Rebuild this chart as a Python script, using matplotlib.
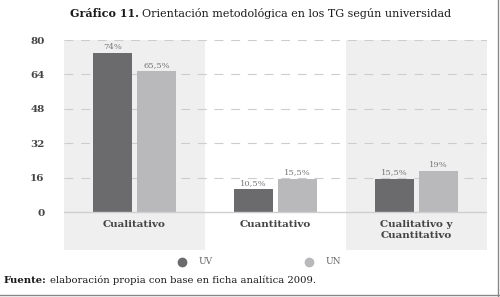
import numpy as np
import matplotlib.pyplot as plt
from matplotlib.lines import Line2D

# datos
categorias = ['Cualitativo', 'Cuantitativo', 'Cualitativo y\nCuantitativo']
uv = [74, 10.5, 15.5]
un = [65.5, 15.5, 19]
etiquetas_uv = ['74%', '10,5%', '15,5%']
etiquetas_un = ['65,5%', '15,5%', '19%']
yticks = [0, 16, 32, 48, 64, 80]

c_uv = '#6b6b6d'
c_un = '#b9b9bc'
c_banda = '#efefef'
fuente = 'DejaVu Serif'

fig = plt.figure(figsize=(5, 2.97), dpi=100)
ax = fig.add_axes([0.128, 0.158, 0.846, 0.707])

x = np.arange(len(categorias))
ancho = 0.28
off = 0.156

# bandas grises detras de las categorias 1 y 3
for i in (0, 2):
    ax.axvspan(i - 0.5, i + 0.5, color=c_banda, zorder=0, lw=0)

for yt in yticks[1:]:
    ax.axhline(yt, color='#cdcdcd', lw=0.8, ls=(0, (8, 7)), zorder=1)
ax.axhline(0, color='#cfcfcf', lw=1.0, zorder=3)

ax.bar(x - off, uv, ancho, color=c_uv, zorder=2)
ax.bar(x + off, un, ancho, color=c_un, zorder=2)

for i in range(len(x)):
    ax.text(x[i] - off, uv[i] + 1, etiquetas_uv[i], ha='center', va='bottom',
            fontsize=6, color='#777777', family=fuente)
    ax.text(x[i] + off, un[i] + 1, etiquetas_un[i], ha='center', va='bottom',
            fontsize=6, color='#777777', family=fuente)
    ax.text(x[i], -3.8, categorias[i], ha='center', va='top', fontsize=7.5,
            fontweight='bold', color='#444444', family=fuente, linespacing=1.3)

ax.set_xlim(-0.5, 2.5)
ax.set_ylim(-17.7, 80)
ax.set_xticks([])
ax.set_yticks(yticks)
ax.set_yticklabels([str(v) for v in yticks], fontsize=7.5, fontweight='bold',
                   color='#444444', family=fuente)
ax.tick_params(axis='y', length=0, pad=14)
for s in ax.spines.values():
    s.set_visible(False)

fig.canvas.draw()
r = fig.canvas.get_renderer()


def dos_partes(x0, y0, negrita, normal, size):
    # texto en negrita seguido de texto normal
    t1 = fig.text(x0, y0, negrita, ha='left', va='center', fontsize=size,
                  fontweight='bold', color='#1a1a1a', family=fuente)
    bb = t1.get_window_extent(renderer=r)
    x1 = (bb.x1 + 3) / fig.bbox.width
    fig.text(x1, y0, normal, ha='left', va='center', fontsize=size,
             color='#1a1a1a', family=fuente)


# titulo
dos_partes(0.14, 0.955, 'Gráfico 11.',
           'Orientación metodológica en los TG según universidad', 8)

# leyenda
fig.add_artist(Line2D([0.364], [0.118], marker='o', markersize=6, color=c_uv,
                      transform=fig.transFigure))
fig.text(0.398, 0.118, 'UV', ha='left', va='center', fontsize=6.5,
         color='#666666', family=fuente)
fig.add_artist(Line2D([0.618], [0.118], marker='o', markersize=6, color=c_un,
                      transform=fig.transFigure))
fig.text(0.652, 0.118, 'UN', ha='left', va='center', fontsize=6.5,
         color='#666666', family=fuente)

# fuente
dos_partes(0.008, 0.055, 'Fuente:',
           'elaboración propia con base en ficha analítica 2009.', 7.2)

# marco derecho e inferior
fig.add_artist(Line2D([0.996, 0.996], [0, 1], color='#888888', lw=1,
                      transform=fig.transFigure))
fig.add_artist(Line2D([0, 1], [0.006, 0.006], color='#888888', lw=1,
                      transform=fig.transFigure))

fig.savefig('out.png', dpi=100)
